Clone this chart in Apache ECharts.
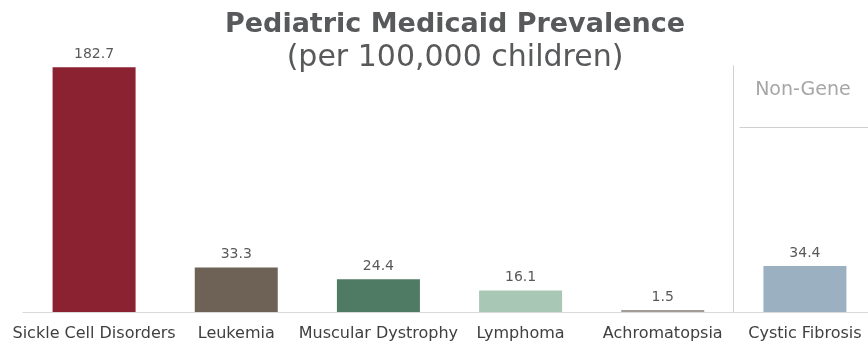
<!DOCTYPE html>
<html>
<head>
<meta charset="utf-8">
<script src="https://cdn.jsdelivr.net/npm/echarts@6/dist/echarts.min.js"></script>
<style>
html,body{margin:0;padding:0;background:#fff;}
#chart{width:868px;height:345px;}
</style>
</head>
<body>
<div id="chart"></div>
<script>
var categories = ['Sickle Cell Disorders', 'Leukemia', 'Muscular Dystrophy', 'Lymphoma', 'Achromatopsia', 'Cystic Fibrosis'];
var prevalence = [182.7, 33.3, 24.4, 16.1, 1.5, 34.4];
var barColors = ['#8B2232', '#6E6257', '#4F7B64', '#A9C7B5', '#A39C96', '#9BB0C0'];
var titleText = 'Pediatric Medicaid Prevalence';
var subtitleText = '(per 100,000 children)';
var groupLabel = 'Non-Gene';

var chart = echarts.init(document.getElementById('chart'));
var FONT = '"DejaVu Sans", sans-serif';

var option = {
  animation: false,
  title: {
    text: titleText,
    subtext: subtitleText,
    left: 450,
    textAlign: 'center',
    top: 6,
    itemGap: 5,
    textStyle: { fontFamily: FONT, fontSize: 27, fontWeight: 'bold', color: '#58595B' },
    subtextStyle: { fontFamily: FONT, fontSize: 30, color: '#58595B' }
  },
  grid: { left: 23, top: 44, width: 853, height: 268, outerBoundsMode: 'none', containLabel: false },
  xAxis: {
    type: 'category',
    data: categories,
    axisLine: { show: true, lineStyle: { color: '#D9D9D9', width: 1 } },
    axisTick: { show: false },
    axisLabel: { fontFamily: FONT, fontSize: 16, color: '#404040', margin: 14, interval: 0 }
  },
  yAxis: {
    type: 'value',
    min: 0,
    max: 200,
    show: false,
    splitLine: { show: false }
  },
  series: [{
    type: 'bar',
    barWidth: 83,
    data: prevalence.map(function (v, i) {
      return { value: v, itemStyle: { color: barColors[i] } };
    }),
    label: {
      show: true,
      position: 'top',
      distance: 6,
      fontFamily: FONT,
      fontSize: 14,
      color: '#595959',
      formatter: function (p) { return p.value.toFixed(1); }
    }
  }]
};
chart.setOption(option);

// separator and group annotation, positioned via the chart's own scales
var p4 = chart.convertToPixel({ gridIndex: 0 }, [4, 0]);
var p5 = chart.convertToPixel({ gridIndex: 0 }, [5, 0]);
var sepX = Math.round((p4[0] + p5[0]) / 2) - 0.5;
var baseY = p4[1];
var topY = chart.convertToPixel({ gridIndex: 0 }, [0, 184])[1];
chart.setOption({
  graphic: [
    { type: 'line', shape: { x1: sepX, y1: topY, x2: sepX, y2: baseY }, style: { stroke: '#D0CECE', lineWidth: 1 } },
    { type: 'line', shape: { x1: sepX + 6, y1: 127.5, x2: 868, y2: 127.5 }, style: { stroke: '#D0CECE', lineWidth: 1 } },
    { type: 'text', x: p5[0] - 2, y: 90, style: { text: groupLabel, fontFamily: FONT, fontSize: 19, fill: '#A6A6A6', align: 'center', verticalAlign: 'middle' } }
  ]
});
</script>
</body>
</html>
